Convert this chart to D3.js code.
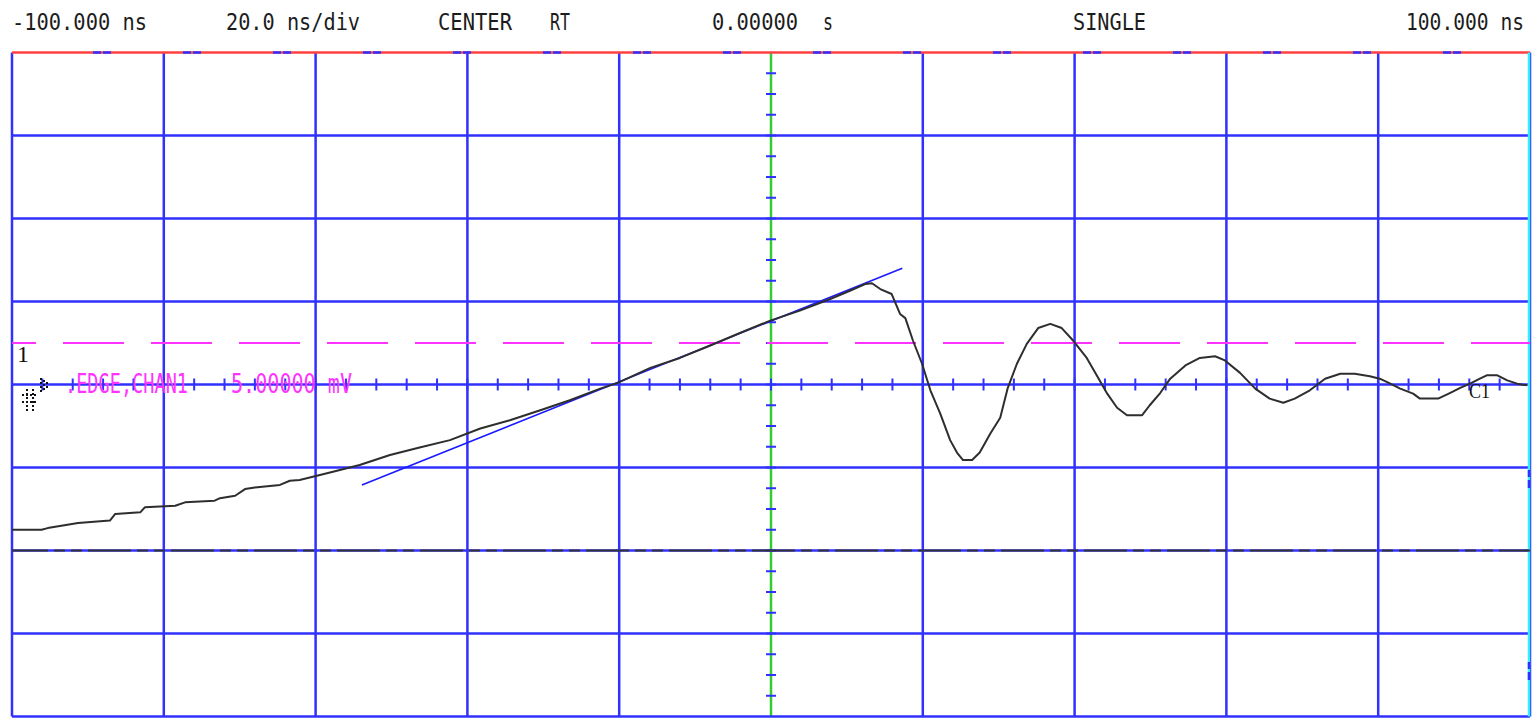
<!DOCTYPE html>
<html>
<head>
<meta charset="utf-8">
<script src="https://cdn.jsdelivr.net/npm/d3@7"></script>
<style>
	body { margin: 0; background: #fff; }
	svg { display: block; }
	.hdr { font-family: "DejaVu Sans Mono", monospace; fill: #1c1c1c; }
	.mag { font-family: "DejaVu Sans Mono", monospace; fill: #ff33ff; }
</style>
</head>
<body>
<div id="scope"></div>
<script>
// waveform, time in ns and voltage in mV (10 mV/div)
var timeNs = [-100, -96.1, -95.3, -91.3, -87.1, -86.4, -83.1, -82.5, -78.5, -77.2, -73.3, -72.6, -70.6, -69.3, -68.0, -64.7, -63.4,
	-62.1, -58.1, -54.2, -50.2, -46.3, -42.3, -38.3, -34.4, -30.4, -26.5, -22.5, -20.2, -15.9, -12.0, -8.0, -4.1, -0.1,
	3.8, 7.8, 10.4, 12.4, 13.3, 14.4, 15.9, 17.0, 17.7, 18.7, 19.9, 21.0, 22.3, 23.6, 24.5, 25.3, 26.5, 27.5, 28.9,
	30.2, 31.2, 32.4, 33.7, 35.2, 36.8, 38.3, 39.8, 41.6, 43.1, 44.3, 45.6, 46.9, 48.9, 49.9, 51.3, 52.6, 54.6, 56.5,
	58.5, 59.8, 61.8, 63.8, 65.7, 67.5, 69.0, 71.0, 73.0, 75.0, 76.9, 78.9, 80.2, 81.6, 82.9, 84.6, 85.5, 87.9, 89.5,
	90.8, 92.1, 93.4, 94.3, 95.7, 97.0, 98.3, 99.6];
var voltMv = [-17.5, -17.5, -17.3, -16.7, -16.4, -15.6, -15.4, -14.8, -14.6, -14.2, -14.0, -13.7, -13.4, -12.6, -12.4, -12.1, -11.6,
	-11.5, -10.6, -9.7, -8.5, -7.6, -6.7, -5.3, -4.3, -3.1, -1.9, -0.5, 0.2, 2.0, 3.2, 4.7, 6.2, 7.7,
	8.9, 10.3, 11.3, 12.1, 12.2, 11.5, 10.9, 8.5, 8.0, 5.3, 2.5, -0.7, -3.5, -6.7, -8.2, -9.1, -9.1, -8.2, -5.9,
	-4.0, -0.4, 2.5, 4.9, 6.8, 7.3, 6.8, 5.3, 3.2, 0.8, -1.1, -2.8, -3.7, -3.7, -2.5, -1.0, 0.7, 2.3, 3.2,
	3.4, 2.9, 1.4, -0.5, -1.7, -2.2, -1.7, -0.7, 0.7, 1.3, 1.3, 1.0, 0.7, 0.1, -0.5, -1.1, -1.7, -1.7, -1.0,
	-0.4, 0.1, 0.7, 1.1, 1.1, 0.5, 0.1, -0.1];

// fitted rise line (blue)
var tangentNs = [-53.9, 17.3];
var tangentMv = [-12.1, 14.0];

var triggerMv = 5;   // magenta dashed level
var groundMv = -20;  // channel ground marker

var headerLabels = ["-100.000 ns", "20.0 ns/div", "CENTER", "RT", "0.00000", "s", "SINGLE", "100.000 ns"];
var triggerLabels = [".EDGE,CHAN1", "5.00000 mV"];

function drawScope() {
	var width = 1538, height = 718;

	var x = d3.scaleLinear().domain([-100, 100]).range([12, 1530]);
	var y = d3.scaleLinear().domain([-40, 40]).range([716.5, 52.5]);

	var svg = d3.select("#scope").append("svg")
		.attr("width", width)
		.attr("height", height);

	svg.append("rect").attr("width", width).attr("height", height).attr("fill", "#fff");

	var blue = "#3030ff";

	//grid
	var g = svg.append("g");
	g.selectAll(".vg").data(d3.range(-100, 101, 20)).enter().append("line")
		.attr("x1", d => x(d)).attr("x2", d => x(d))
		.attr("y1", y(40)).attr("y2", y(-40))
		.attr("stroke", d => d == 0 ? "#33cc33" : blue)
		.attr("stroke-width", 2.5);
	g.selectAll(".hg").data(d3.range(-40, 41, 10)).enter().append("line")
		.attr("x1", x(-100)).attr("x2", x(100))
		.attr("y1", d => y(d)).attr("y2", d => y(d))
		.attr("stroke", d => d == 40 ? "#ff4040" : blue)
		.attr("stroke-width", 2.5);

	//little blue marks on the top edge
	g.selectAll(".tm").data(d3.range(93, 1500, 90)).enter().append("path")
		.attr("d", d => "M" + d + "," + y(40) + "h8M" + (d + 10) + "," + y(40) + "h8")
		.attr("stroke", blue).attr("stroke-width", 2.5);

	//right edge cyan
	g.append("line")
		.attr("x1", x(100) - 1).attr("x2", x(100) - 1)
		.attr("y1", y(40)).attr("y2", y(-40))
		.attr("stroke", "#33eeff").attr("stroke-width", 2.5);
	g.selectAll(".rm").data([470, 662]).enter().append("path")
		.attr("d", d => "M" + (x(100) - 1) + "," + d + "v7M" + (x(100) - 1) + "," + (d + 10) + "v8")
		.attr("stroke", blue).attr("stroke-width", 2.5);

	//minor ticks on center axes
	g.selectAll(".xt").data(d3.range(-96, 100, 4)).enter().append("line")
		.attr("x1", d => x(d)).attr("x2", d => x(d))
		.attr("y1", y(0) - 6).attr("y2", y(0) + 6)
		.attr("stroke", blue).attr("stroke-width", 2);
	g.selectAll(".yt").data(d3.range(-37.5, 40, 2.5)).enter().append("line")
		.attr("x1", x(0) - 5).attr("x2", x(0) + 5)
		.attr("y1", d => y(d)).attr("y2", d => y(d))
		.attr("stroke", blue).attr("stroke-width", 2);

	//ground line (black over blue)
	svg.append("line")
		.attr("x1", x(-100)).attr("x2", x(100))
		.attr("y1", y(groundMv)).attr("y2", y(groundMv))
		.attr("stroke", "#333").attr("stroke-width", 2.2)
		.attr("stroke-dasharray", "43,6,11,6,11,6")
		.attr("stroke-dashoffset", 7);

	//trigger level
	svg.append("line")
		.attr("x1", x(-100)).attr("x2", x(100))
		.attr("y1", y(triggerMv)).attr("y2", y(triggerMv))
		.attr("stroke", "#ff33ff").attr("stroke-width", 2)
		.attr("stroke-dasharray", "61,27")
		.attr("stroke-dashoffset", 37);

	//trigger text
	svg.append("text").attr("class", "mag")
		.attr("x", 65).attr("y", 393)
		.attr("font-size", 26)
		.attr("textLength", 123).attr("lengthAdjust", "spacingAndGlyphs")
		.text(triggerLabels[0]);
	svg.append("text").attr("class", "mag")
		.attr("x", 231).attr("y", 393)
		.attr("font-size", 26)
		.attr("textLength", 121).attr("lengthAdjust", "spacingAndGlyphs")
		.text(triggerLabels[1]);

	//blue fit line
	svg.append("line")
		.attr("x1", x(tangentNs[0])).attr("y1", y(tangentMv[0]))
		.attr("x2", x(tangentNs[1])).attr("y2", y(tangentMv[1]))
		.attr("stroke", "#1a1aff").attr("stroke-width", 1.6);

	//waveform
	var pts = timeNs.map((t, i) => [t, voltMv[i]]);
	svg.append("path")
		.datum(pts)
		.attr("fill", "none")
		.attr("stroke", "#2e2e2e")
		.attr("stroke-width", 2)
		.attr("stroke-linejoin", "round")
		.attr("d", d3.line().x(d => x(d[0])).y(d => y(d[1])));

	//channel markers
	svg.append("text").attr("x", 17).attr("y", 362)
		.attr("font-family", "Liberation Serif, serif").attr("font-size", 24).attr("fill", "#111")
		.text("1");
	svg.append("path")
		.attr("d", "M41,378v14M44,380v10M47,382v6M22,395h16M22,402h16M27,389v22M33,389v22")
		.attr("stroke", "#111").attr("stroke-width", 2).attr("stroke-dasharray", "2,2");
	svg.append("text").attr("x", 1469).attr("y", 398)
		.attr("font-family", "Liberation Serif, serif").attr("font-size", 22).attr("fill", "#111")
		.attr("textLength", 21).attr("lengthAdjust", "spacingAndGlyphs")
		.text("C1");

	//header (narrow tall bitmap look: smaller font stretched vertically)
	var hx = [12, 226, 438, 550, 712, 823, 1073, 1406];
	var hw = [135, 134, 74, 20, 86, 10, 73, 118];
	svg.selectAll(".hdr").data(headerLabels).enter().append("text")
		.attr("class", "hdr")
		.attr("transform", (d, i) => "translate(" + hx[i] + ",30) scale(1,1.2)")
		.attr("font-size", 19)
		.attr("textLength", (d, i) => hw[i]).attr("lengthAdjust", "spacingAndGlyphs")
		.text(d => d);
}

drawScope();
</script>
</body>
</html>
